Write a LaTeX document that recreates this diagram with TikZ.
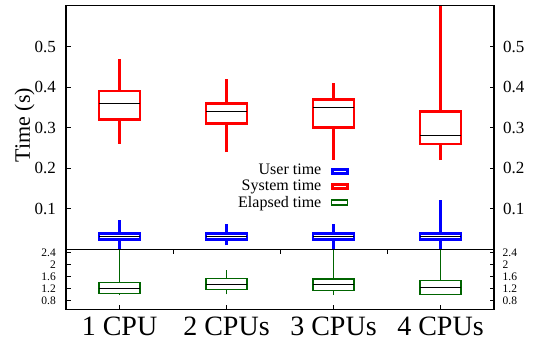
\documentclass[tikz,border=0pt]{standalone}
\usepackage{fontspec}
\setmainfont{Liberation Serif}
\usetikzlibrary{positioning}
\definecolor{elapsedgreen}{RGB}{0,100,0}

\begin{document}
\begin{tikzpicture}[
        x=1pt, y=1pt,
        frame/.style={draw=black, line width=1.1pt},
        tickmark/.style={draw=black, line width=0.9pt},
        ticklabel/.style={inner sep=0pt, font=\fontsize{17}{17}\selectfont},
        smalllabel/.style={inner sep=0pt, font=\fontsize{11.5}{11.5}\selectfont},
        cpulabel/.style={inner sep=0pt, font=\fontsize{28}{28}\selectfont},
        legendtext/.style={inner sep=0pt, font=\fontsize{16}{16}\selectfont},
        userbox/.style={draw=blue, line width=2.6pt},
        sysbox/.style={draw=red, line width=2.6pt},
        elapsedbox/.style={draw=elapsedgreen, line width=1.4pt},
        median/.style={draw=black, line width=1.1pt}
    ]
        \useasboundingbox (0,0) rectangle (533,345);

        % upper panel: user and system time
        \begin{scope}[shift={(12.5,95.5)}, x=107pt, y=406pt]
            \foreach \i/\lo/\qa/\md/\qb/\hi in {1/0.26/0.32/0.36/0.39/0.47, 2/0.24/0.31/0.34/0.36/0.42, 3/0.22/0.30/0.35/0.37/0.41, 4/0.22/0.26/0.28/0.34/0.6} {
                \draw[sysbox] (\i,\lo) -- (\i,\qa) (\i,\qb) -- (\i,\hi);
                \draw[sysbox] (\i-0.19,\qa) rectangle (\i+0.19,\qb);
                \draw[median] (\i-0.19,\md) -- (\i+0.19,\md);
            }
            \foreach \i/\lo/\qa/\md/\qb/\hi in {1/0/0.024/0.032/0.039/0.073, 2/0.01/0.024/0.032/0.039/0.062, 3/0/0.024/0.032/0.039/0.062, 4/0/0.024/0.032/0.039/0.122} {
                \draw[userbox] (\i,\lo) -- (\i,\qa) (\i,\qb) -- (\i,\hi);
                \draw[userbox] (\i-0.19,\qa) rectangle (\i+0.19,\qb);
                \draw[median] (\i-0.19,\md) -- (\i+0.19,\md);
            }
            \draw[frame] (0.5,0) rectangle (4.5,0.6);
            \foreach \v [count=\k] in {0.1,0.2,0.3,0.4,0.5} {
                \draw[tickmark] (0.5,\v) -- ++(4.5pt,0);
                \draw[tickmark] (4.5,\v) -- ++(-4.5pt,0);
                \node[ticklabel, anchor=east, xshift=-10pt] (yl\k) at (0.5,\v) {\v};
                \node[ticklabel, anchor=west, xshift=9pt] (yr\k) at (4.5,\v) {\v};
            }
        \end{scope}

        % lower panel: elapsed time
        \begin{scope}[shift={(12.5,20.5)}, x=107pt, y=30pt]
            \foreach \i/\lo/\qa/\md/\qb/\hi in {1/0.98/1.04/1.2/1.40/2.5, 2/1.0/1.17/1.34/1.54/1.81, 3/0.98/1.13/1.33/1.51/2.5, 4/1.0/1.0/1.23/1.47/2.5} {
                \draw[elapsedbox] (\i,\lo) -- (\i,\qa) (\i,\qb) -- (\i,\hi);
                \draw[elapsedbox] (\i-0.19,\qa) rectangle (\i+0.19,\qb);
                \draw[median] (\i-0.19,\md) -- (\i+0.19,\md);
            }
            \draw[frame] (0.5,0.5) rectangle (4.5,2.5);
            \foreach \v [count=\k] in {0.8,1.2,1.6,2,2.4} {
                \draw[tickmark] (0.5,\v) -- ++(4.5pt,0);
                \draw[tickmark] (4.5,\v) -- ++(-4.5pt,0);
                \node[smalllabel, anchor=east, xshift=-10pt] (el\k) at (0.5,\v) {\v};
                \node[smalllabel, anchor=west, xshift=8.5pt] (er\k) at (4.5,\v) {\v};
            }
            \foreach \i in {1,2,3,4}
                \draw[tickmark] (\i,0.5) -- ++(0,4.5pt);
            \foreach \i in {1.5,2.5,3.5}
                \draw[tickmark] (\i,2.5) -- ++(0,-4.5pt);
            \node[cpulabel, anchor=base, yshift=-26.5pt] (cpu1) at (1,0.5) {1 CPU};
            \node[cpulabel, anchor=base, yshift=-26.5pt] (cpu2) at (2,0.5) {2 CPUs};
            \node[cpulabel, anchor=base, yshift=-26.5pt] (cpu3) at (3,0.5) {3 CPUs};
            \node[cpulabel, anchor=base, yshift=-26.5pt] (cpu4) at (4,0.5) {4 CPUs};
        \end{scope}

        \node[rotate=90, inner sep=0pt, font=\fontsize{22}{22}\selectfont] (ylabel) at (24.5,220) {Time (s)};

        % legend
        \node[legendtext, anchor=base east] (leguser) at (321.5,170) {User time};
        \node[legendtext, anchor=base east] (legsys) at (321.5,154) {System time};
        \node[legendtext, anchor=base east] (legelapsed) at (321.5,137.7) {Elapsed time};
        \node[userbox, inner sep=0pt, minimum width=15pt, minimum height=4.2pt] (keyuser) at (339.7,173.3) {};
        \node[sysbox, inner sep=0pt, minimum width=15pt, minimum height=4.2pt] (keysys) at (339.7,158.3) {};
        \node[elapsedbox, inner sep=0pt, minimum width=16pt, minimum height=5pt] (keyelapsed) at (339.7,142.5) {};
    \end{tikzpicture}
\end{document}
